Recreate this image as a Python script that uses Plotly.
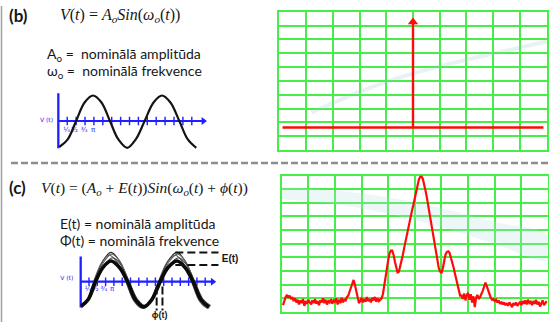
import numpy as np
import plotly.graph_objects as go

W, H = 549, 322

# ---------------- data ----------------
# (b) nominal sine, key points (time in tick units, value in amplitude units)
sine_b_t = [0.1, 1.05, 2.0, 2.95, 3.9, 4.85, 5.8, 6.75, 7.75, 8.7, 9.7, 10.7, 11.65, 12.6, 13.6, 14.55, 15.5]
sine_b_v = [-1.0, -0.71, 0.0, 0.71, 0.98, 0.71, 0.0, -0.71, -1.03, -0.71, 0.0, 0.71, 0.98, 0.71, 0.0, -0.71, -1.03]
axis_ticks = [1, 2, 3, 4, 5, 6, 7, 8, 9, 10, 11, 12, 13, 14, 15]
axis_len_b = 16.5
axis_len_c = 16.1
tick_labels = ["¼", "½", "¾", "π"]
tick_label_pos_b = [0.95, 1.8, 2.9, 3.9]
tick_label_pos_c = [0.9, 1.75, 2.8, 3.8]

# (c) perturbed sines: thick nominal trace + thin jittered copies
sine_c_thick_t = [0.05, 0.9, 1.75, 2.7, 3.65, 4.65, 5.65, 6.6, 7.6, 8.55, 9.55, 10.55, 11.6, 12.55, 13.55, 14.5, 15.45]
sine_c_thick_v = [-1.02, -0.74, 0.0, 0.6, 0.86, 0.6, 0.0, -0.76, -1.05, -0.76, 0.0, 0.6, 0.86, 0.6, 0.0, -0.76, -1.05]
sine_c_thin = [
    ([0.05, 0.9, 1.75, 2.7, 3.65, 4.65, 5.65, 6.6, 7.6, 8.55, 9.55, 10.55, 11.6, 12.55, 13.55, 14.5, 15.45],
     [-1.05, -0.76, 0.06, 0.88, 1.22, 0.88, 0.06, -0.76, -1.1, -0.76, 0.06, 0.88, 1.22, 0.88, 0.06, -0.76, -1.08]),
    ([0.05, 0.75, 1.55, 2.5, 3.45, 4.45, 5.45, 6.4, 7.4, 8.35, 9.35, 10.35, 11.4, 12.35, 13.35, 14.3, 15.25, 15.5],
     [-1.08, -0.82, -0.01, 0.78, 1.1, 0.78, -0.01, -0.8, -1.1, -0.8, -0.01, 0.78, 1.1, 0.78, -0.01, -0.8, -1.1, -1.08]),
    ([0.15, 1.1, 1.95, 2.9, 3.85, 4.85, 5.85, 6.8, 7.8, 8.75, 9.75, 10.75, 11.8, 12.75, 13.75, 14.7, 15.65],
     [-1.0, -0.71, 0.0, 0.71, 1.0, 0.71, 0.0, -0.71, -1.0, -0.71, 0.0, 0.71, 1.0, 0.71, 0.0, -0.71, -1.0]),
    ([0.1, 1.0, 1.85, 2.8, 3.75, 4.75, 5.75, 6.7, 7.7, 8.65, 9.65, 10.65, 11.7, 12.65, 13.65, 14.6, 15.55],
     [-1.03, -0.73, 0.05, 0.83, 1.15, 0.83, 0.05, -0.73, -1.05, -0.73, 0.05, 0.83, 1.15, 0.83, 0.05, -0.73, -1.05]),
]
e_band_levels = [1.22, 0.7]
e_band_t = [11.4, 16.6]
phi_marks_t = [9.15, 9.85]
phi_marks_v = [-0.2, -1.2]

# (b) spectrum: single line at carrier frequency
spec_b_level = 1.63
spec_b_span = [0.12, 9.88]
spec_b_peak_x = 5.0
spec_b_peak_y = 9.55

# faint background glare streaks (decoration)
glare_b_x = [1.2, 3.0, 4.6, 6.5, 8.3, 10.0]
glare_b_y = [2.7, 4.2, 5.3, 6.3, 7.1, 7.85]

# (c) spectrum: noisy measured trace, segments (start, end, values)
spec_c_segments = [
    (0.05, 2.45, [0.50, 0.85, 1.10, 1.25, 1.05, 1.20, 0.95, 1.10, 0.80, 1.00, 0.70, 0.90, 0.55, 0.85, 0.65, 0.95,
                  0.45, 0.80, 0.60, 0.90, 0.70, 0.55, 0.85, 0.65, 0.95, 0.60, 0.80, 0.50, 0.85, 0.70, 1.00, 0.65,
                  0.90, 0.55, 0.80, 0.70, 0.95, 0.60, 0.85, 0.75, 1.00, 0.55, 0.90, 0.65, 1.05, 0.70, 0.95, 0.80,
                  1.10]),
    (2.50, 2.95, [1.20, 1.50, 1.85, 2.20, 2.35, 2.00, 1.60, 1.10, 0.65, 0.80]),
    (3.00, 3.70, [1.05, 0.70, 0.95, 0.75, 1.10, 0.80, 0.95, 0.70, 1.05, 0.85, 1.10, 0.75, 1.00, 0.80, 0.95]),
    (3.75, 6.70, [1.00, 1.30, 2.00, 2.60, 3.20, 3.80, 4.30, 4.50, 4.50, 4.20,
                  3.70, 3.20, 2.90, 2.95, 3.30, 3.70, 4.20, 4.70, 5.20, 5.60,
                  6.00, 6.50, 7.00, 7.50, 7.90, 8.40, 8.80, 9.30, 9.70, 9.90,
                  9.95, 9.75, 9.40, 8.90, 8.40, 7.80, 7.20, 6.70, 6.20, 5.70,
                  5.00, 4.30, 3.70, 3.20, 2.95, 2.85, 3.20, 3.80, 4.20, 4.40,
                  4.45, 4.35, 4.05, 3.60, 3.30, 2.85, 2.40, 1.90, 1.50, 1.20]),
    (6.75, 7.50, [1.20, 0.95, 1.35, 0.85, 1.25, 1.40, 0.90, 1.30, 0.70, 1.15, 0.35, 1.05, 1.25, 0.95, 1.10, 1.30]),
    (7.55, 7.90, [1.55, 1.85, 2.15, 1.90, 1.60, 1.30, 1.05, 0.90]),
    (7.95, 9.95, [0.95, 0.80, 0.90, 0.70, 0.85, 0.60, 0.75, 0.55, 0.70, 0.50, 0.65, 0.45, 0.70, 0.55, 0.35, 0.65,
                  0.50, 0.70, 0.45, 0.60, 0.75, 0.50, 0.80, 0.60, 0.85, 0.55, 0.90, 0.65, 0.75, 0.50, 0.80, 0.60,
                  0.90, 0.55, 0.75, 0.40, 0.70, 0.85, 0.50, 0.65, 0.80]),
]
glare_c_x = [-0.2, 2.0, 4.0, 6.0, 8.0, 10.0, 10.0, 8.0, 6.0, 4.0, 2.0, -0.2]
glare_c_y = [9.2, 8.9, 8.4, 7.6, 6.6, 5.6, 3.8, 5.0, 6.2, 7.2, 7.9, 8.3]

# ---------------- helpers ----------------
def PX(x):
    return x / W

def PY(y):
    return 1 - y / H

BLUE = "#1f1fff"
GREEN = "#48ee48"
RED = "#ff0a0a"
TXT = "#161616"

fig = go.Figure()

# glare decorations
fig.add_trace(go.Scatter(x=glare_b_x, y=glare_b_y, mode="lines", line=dict(color="rgba(150,195,200,0.22)", width=4, shape="spline"),
                         xaxis="x2", yaxis="y2", hoverinfo="skip"))
fig.add_trace(go.Scatter(x=glare_c_x, y=glare_c_y, mode="lines", fill="toself", fillcolor="rgba(185,222,226,0.25)",
                         line=dict(width=0, shape="spline"), xaxis="x4", yaxis="y4", hoverinfo="skip"))

# ---- small time axes ----
for xr, yr, ylo, yhi, alen in [("x", "y", -1.05, 1.07, axis_len_b), ("x3", "y3", -1.08, 1.05, axis_len_c)]:
    fig.add_trace(go.Scatter(x=[0, 0], y=[ylo, yhi], mode="lines",
                             line=dict(color=BLUE, width=2.3), xaxis=xr, yaxis=yr, hoverinfo="skip"))
    fig.add_trace(go.Scatter(x=[0, alen - 0.3], y=[0, 0], mode="lines",
                             line=dict(color=BLUE, width=2.2), xaxis=xr, yaxis=yr, hoverinfo="skip"))
    fig.add_trace(go.Scatter(x=[alen - 0.2], y=[0], mode="markers",
                             marker=dict(symbol="triangle-right", size=7, color=BLUE),
                             xaxis=xr, yaxis=yr, hoverinfo="skip"))
    fig.add_trace(go.Scatter(x=axis_ticks, y=[0] * len(axis_ticks), mode="markers",
                             marker=dict(symbol="line-ns", size=6, line=dict(color=BLUE, width=1.4)),
                             xaxis=xr, yaxis=yr, hoverinfo="skip"))

# small tick labels and V(t) labels as text traces
for xr, yr, poss, vy, vt, vv in [("x", "y", tick_label_pos_b, -0.35, -0.6, 0.0),
                                 ("x3", "y3", tick_label_pos_c, -0.3, -0.9, 0.14)]:
    fig.add_trace(go.Scatter(x=poss, y=[vy] * len(poss), mode="text", text=tick_labels,
                             textposition="middle center",
                             textfont=dict(family="DejaVu Sans", size=7, color=BLUE),
                             xaxis=xr, yaxis=yr, hoverinfo="skip", cliponaxis=False))
    fig.add_trace(go.Scatter(x=[vt], y=[vv], mode="text", text=["V (t)"], textposition="middle left",
                             textfont=dict(family="DejaVu Sans", size=6, color=BLUE),
                             xaxis=xr, yaxis=yr, hoverinfo="skip", cliponaxis=False))

fig.add_trace(go.Scatter(x=sine_b_t, y=sine_b_v, mode="lines", line=dict(color="#151515", width=2.2, shape="spline"),
                         xaxis="x", yaxis="y", hoverinfo="skip"))

# ---- panel (c) left: perturbed sines ----
for i, (tt, vv) in enumerate(sine_c_thin):
    fig.add_trace(go.Scatter(x=tt, y=vv, mode="lines",
                             line=dict(color=["#2a2a2a", "#555555", "#3a3a3a", "#666666"][i], width=1.1, shape="spline"),
                             xaxis="x3", yaxis="y3", hoverinfo="skip"))
fig.add_trace(go.Scatter(x=sine_c_thick_t, y=sine_c_thick_v, mode="lines",
                         line=dict(color="#0a0a0a", width=3.6, shape="spline"),
                         xaxis="x3", yaxis="y3", hoverinfo="skip"))
for lv in e_band_levels:
    fig.add_trace(go.Scatter(x=e_band_t, y=[lv, lv], mode="lines",
                             line=dict(color="#111111", width=2, dash="8px,4px"),
                             xaxis="x3", yaxis="y3", hoverinfo="skip"))
for pt in phi_marks_t:
    fig.add_trace(go.Scatter(x=[pt, pt], y=phi_marks_v, mode="lines",
                             line=dict(color="#111111", width=2, dash="8px,3px"),
                             xaxis="x3", yaxis="y3", hoverinfo="skip"))
fig.add_trace(go.Scatter(x=[17.0], y=[0.93], mode="text", text=["<b>E(t)</b>"], textposition="middle right",
                         textfont=dict(family="Liberation Sans", size=10, color=TXT),
                         xaxis="x3", yaxis="y3", hoverinfo="skip", cliponaxis=False))
fig.add_trace(go.Scatter(x=[9.5], y=[-1.43], mode="text", text=["<b>ϕ(t)</b>"], textposition="middle center",
                         textfont=dict(family="Liberation Sans", size=9, color=TXT),
                         xaxis="x3", yaxis="y3", hoverinfo="skip", cliponaxis=False))

# ---- panel (b) right: single spectral line ----
fig.add_trace(go.Scatter(x=spec_b_span, y=[spec_b_level, spec_b_level], mode="lines",
                         line=dict(color=RED, width=2.4), xaxis="x2", yaxis="y2", hoverinfo="skip"))
fig.add_trace(go.Scatter(x=[spec_b_peak_x, spec_b_peak_x], y=[spec_b_level, spec_b_peak_y - 0.4], mode="lines",
                         line=dict(color=RED, width=2.4), xaxis="x2", yaxis="y2", hoverinfo="skip"))
fig.add_trace(go.Scatter(x=[spec_b_peak_x], y=[spec_b_peak_y - 0.3], mode="markers",
                         marker=dict(symbol="triangle-up", size=9, color=RED),
                         xaxis="x2", yaxis="y2", hoverinfo="skip"))

# ---- panel (c) right: noisy spectrum ----
spec_x, spec_y = [], []
for s, e, vals in spec_c_segments:
    spec_x.extend(np.linspace(s, e, len(vals)).tolist())
    spec_y.extend(vals)
fig.add_trace(go.Scatter(x=spec_x, y=spec_y, mode="lines", line=dict(color=RED, width=2.2),
                         xaxis="x4", yaxis="y4", hoverinfo="skip"))

# ---------------- axes ----------------
hidden = dict(visible=False, showgrid=False, zeroline=False, fixedrange=True)
grid_ax = dict(showgrid=True, gridcolor=GREEN, gridwidth=1.6, dtick=1, tick0=0, range=[0, 10],
               showline=True, linecolor=GREEN, linewidth=1.8, mirror=True, zeroline=False,
               showticklabels=False, ticks="", fixedrange=True, layer="below traces")

layout = dict(
    width=W, height=H, margin=dict(l=0, r=0, t=0, b=0),
    paper_bgcolor="white", plot_bgcolor="rgba(0,0,0,0)", showlegend=False,
    xaxis=dict(hidden, domain=[PX(42.3), PX(214.05)], range=[-1.8, 17.5]),
    yaxis=dict(hidden, domain=[PY(156.1), PY(85.9)], range=[-1.35, 1.35], anchor="x"),
    xaxis3=dict(hidden, domain=[PX(64.1), PX(238.4)], range=[-2, 19], anchor="y3"),
    yaxis3=dict(hidden, domain=[PY(320.1), PY(248.1)], range=[-1.6, 1.4], anchor="x3"),
    xaxis2=dict(grid_ax, domain=[PX(279.3), PX(546.7)], anchor="y2"),
    yaxis2=dict(grid_ax, domain=[PY(150), PY(11.7)], anchor="x2"),
    xaxis4=dict(grid_ax, domain=[PX(281.7), PX(548.0)], anchor="y4"),
    yaxis4=dict(grid_ax, domain=[PY(312), PY(175.5)], anchor="x4"),
)
fig.update_layout(**layout)

# ---------------- shapes (frame decorations) ----------------
fig.add_shape(type="line", xref="paper", yref="paper", x0=PX(1.5), x1=PX(1.5), y0=PY(6), y1=PY(322),
              line=dict(color="#a0a0a0", width=1.5))
fig.add_shape(type="line", xref="paper", yref="paper", x0=PX(11), x1=PX(549), y0=PY(163), y1=PY(163),
              line=dict(color="#8c8c8c", width=2.6, dash="7px,3px"))

# ---------------- annotations ----------------
ann = []
SANS = "Lato"
SERIF = "Liberation Serif"

def text(x, y, s, size, family=SANS, color=TXT, xanchor="left"):
    ann.append(dict(x=PX(x), y=PY(y), xref="paper", yref="paper", text=s, showarrow=False,
                    xanchor=xanchor, yanchor="middle", font=dict(family=family, size=size, color=color)))

text(7, 15, "<b>(b)</b>", 17)
text(58, 15, "<i>V</i>(<i>t</i>) = <i>A<sub>o</sub>Sin</i>(<i>ω<sub>o</sub></i>(<i>t</i>))", 16, SERIF)
text(45, 55, "A<sub>o</sub>\u00a0=\u00a0 nominālā amplitūda", 14)
text(45, 71, "ω<sub>o</sub>\u00a0=\u00a0 nominālā frekvence", 14)
text(7, 187, "<b>(c)</b>", 17)
text(39, 188, "<i>V</i>(<i>t</i>) = (<i>A<sub>o</sub></i> + <i>E</i>(<i>t</i>))<i>Sin</i>(<i>ω<sub>o</sub></i>(<i>t</i>) + <i>ϕ</i>(<i>t</i>))", 15.5, SERIF)
text(58, 223, "E(t) = nominālā amplitūda", 14)
text(58, 240, "Φ(t) = nominālā frekvence", 14)

fig.update_layout(annotations=ann)
fig.write_html("out.html")
